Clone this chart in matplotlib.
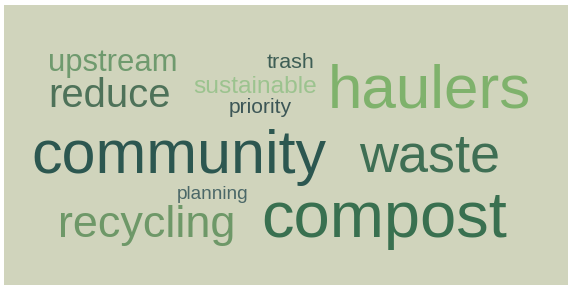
import matplotlib
matplotlib.use("Agg")
import matplotlib.pyplot as plt
from matplotlib.patches import Rectangle

# words and their weight (em size in px)
words = ["upstream", "reduce", "trash", "sustainable", "priority", "haulers",
         "community", "waste", "planning", "recycling", "compost"]
weights = [31, 40, 21.5, 24.5, 21, 62, 61, 54, 19, 45, 65]

# layout: left x and baseline y in pixels, colours
pos_x = [48, 48, 267, 193, 229, 328, 31, 359, 177, 58, 261]
pos_y = [71, 107, 68, 93, 113, 108, 173, 172, 199, 237, 237]
colors = ["#6f9a6e", "#4e7259", "#3e5e55", "#9cc38f", "#3c5656", "#7fb26c",
          "#2c5750", "#3f6f54", "#4b6868", "#6e9868", "#397050"]

W, H = 568, 285
fig = plt.figure(figsize=(W / 100, H / 100), dpi=100, facecolor="white")
ax = fig.add_axes([0, 0, 1, 1])
ax.set_xlim(0, W)
ax.set_ylim(H, 0)
ax.axis("off")

ax.add_patch(Rectangle((4, 5), W - 4, H - 5, facecolor="#d0d4bc", edgecolor="none"))

for w, s, x, y, c in zip(words, weights, pos_x, pos_y, colors):
    ax.text(x, y, w, fontsize=s * 0.72, color=c, family="Liberation Sans",
            ha="left", va="baseline")

fig.savefig("out.png", dpi=100, facecolor="white")
